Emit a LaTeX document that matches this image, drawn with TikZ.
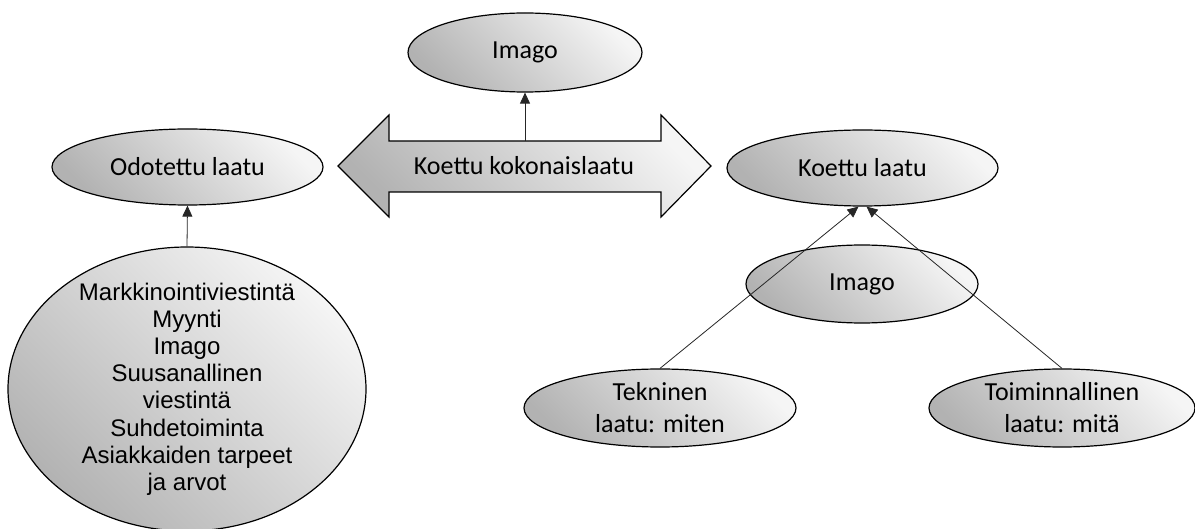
\documentclass[tikz,border=0pt]{standalone}
\usepackage{fontspec}
\setmainfont{Carlito}
\newfontfamily\arialfont{Liberation Sans}
\usetikzlibrary{shapes.geometric,arrows.meta}

\tikzset{
  varjo/.style={draw=black, line width=1.2pt, top color=gray!8, bottom color=gray!60, shading angle=-45},
  pall/.style={varjo, ellipse, inner sep=0pt, align=center, font=\fontsize{26}{32}\selectfont},
  nuoli/.style={draw=black!85, line width=0.8pt, -{Triangle[length=11pt,width=10pt]}},
}

\begin{document}
\begin{tikzpicture}[x=1pt,y=-1pt]
\useasboundingbox[fill=white] (0,0) rectangle (1195,529);

% Ellipses
\node[pall, minimum width=234pt, minimum height=79pt] (imago) at (525,52.5) {Imago};
\node[pall, minimum width=271pt, minimum height=76pt] (odotettu) at (187.5,167) {Odotettu laatu};
\node[pall, minimum width=271pt, minimum height=76pt] (koettu) at (862.5,168) {Koettu laatu};
\node[pall, minimum width=232pt, minimum height=78pt] (imago2) at (862,284) {Imago};
\node[pall, minimum width=272pt, minimum height=78pt] (tekn) at (660,408) {Tekninen\\laatu: miten};
\node[pall, minimum width=266pt, minimum height=78pt] (toim) at (1062,408) {Toiminnallinen\\laatu: mitä};

% Big ellipse with the factors
\node[pall, minimum width=358pt, minimum height=284pt] (tekijat) at (187,389) {};
\node[font=\arialfont\fontsize{24}{27.2}\selectfont, align=center] (tekijatxt) at (tekijat) {Markkinointiviestintä\\Myynti\\Imago\\Suusanallinen\\viestintä\\Suhdetoiminta\\Asiakkaiden tarpeet\\ja arvot};

% Double arrow
\draw[varjo, line join=miter] (338,166) -- (389,115) -- (389,141) -- (661,141) -- (661,115)
  -- (711,166) -- (661,217) -- (661,192) -- (389,192) -- (389,217) -- cycle;
\node[font=\fontsize{26}{32}\selectfont] (kk) at (524,166) {Koettu kokonaislaatu};
\coordinate (kkyla) at (525,141); % top edge of the shaft

% Connectors
\draw[nuoli] (kkyla) -- (imago.south);
\draw[nuoli] (tekijat.north) -- (odotettu.south);
\draw[nuoli] (tekn.north) -- ([xshift=-4pt]koettu.south);
\draw[nuoli] (toim.north) -- ([xshift=4pt]koettu.south);

\end{tikzpicture}
\end{document}
